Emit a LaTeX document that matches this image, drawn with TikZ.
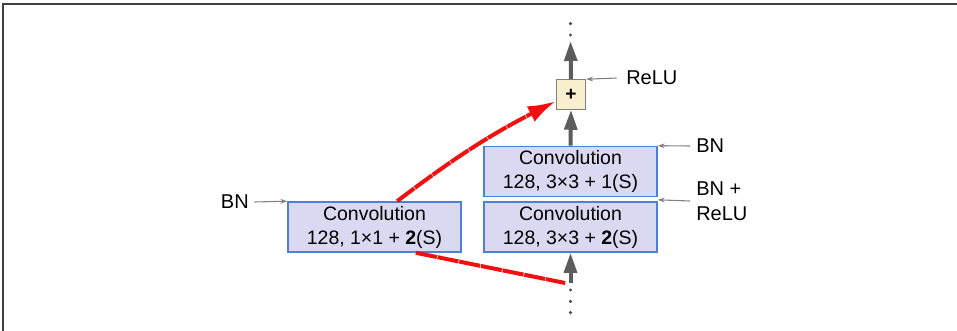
\documentclass[tikz,border=0pt]{standalone}
\usepackage{fontspec}
\setmainfont{Liberation Sans}
\usetikzlibrary{arrows.meta, positioning}
\definecolor{convfill}{HTML}{D9D9F1}
\definecolor{convline}{HTML}{4F7FD6}
\definecolor{addfill}{HTML}{F8EFCF}
\definecolor{flowgray}{HTML}{5C5C5C}
\definecolor{skipred}{HTML}{F01010}

\begin{document}
\begin{tikzpicture}[x=0.75pt, y=-0.75pt,
    conv/.style={draw=convline, fill=convfill, line width=1.2pt,
                 minimum width=129.75pt, minimum height=37.5pt, align=center,
                 inner sep=1pt, font=\fontsize{14.6}{18}\selectfont},
    addbox/.style={draw=gray, fill=addfill, line width=0.9pt,
                   minimum size=22pt, inner sep=0pt, font=\bfseries\Large},
    lbl/.style={font=\fontsize{15}{19}\selectfont, inner sep=0pt, align=left},
    flow/.style={draw=flowgray, line width=3pt, -{Triangle[length=15pt, width=9.5pt]}},
    side/.style={draw=gray, line width=0.8pt, -{Stealth[length=5pt, width=3.5pt]}},
    skip/.style={draw=skipred, line width=3pt, dash pattern=on 16pt off 0.6pt},
    dots/.style={draw=black!70, line width=2.6pt, line cap=round, dash pattern=on 0pt off 8.5pt},
]
    \useasboundingbox (0,0) rectangle (957,331);
    % frame
    \draw[line width=1.5pt, draw=black!75] (3,331) -- (3,4.5) -- (957,4.5);

    \node[conv] (convl) at (374.5,227) {Convolution\\128, 1×1 + \textbf{2}(S)};
    \node[conv] (convt) at (570.5,171.5) {Convolution\\128, 3×3 + 1(S)};
    \node[conv] (convb) at (570.5,227) {Convolution\\128, 3×3 + \textbf{2}(S)};
    \node[addbox] (add) at (571,94.5) {+};

    \coordinate (in) at (570.5,283);
    \coordinate (out) at (570.5,41);

    % main path
    \draw[flow] (in) -- (convb.south);
    \draw[flow] (convt.north) -- (add.south);
    \draw[flow] (add.north) -- (out);
    \draw[dots] (570.5,290) -- (570.5,322);
    \draw[dots] (570.5,35) -- (570.5,18);

    % shortcut
    \draw[skip, -{Latex[length=21pt, width=13pt]}] ([xshift=17pt]convl.north)
        to[bend left=5] ([yshift=-5pt]add.west);
    \draw[skip] ([xshift=31pt]convl.south) -- ([xshift=-4pt]in);

    % labels
    \node[lbl, anchor=east] (bnl) at (249,202) {BN};
    \draw[side] ([xshift=4pt]bnl.east) -- (convl.north west);
    \node[lbl, anchor=west] (relu) at (626,78) {ReLU};
    \draw[side] ([xshift=-7pt]relu.west) -- (add.north east);
    \node[lbl, anchor=west] (bnt) at (696,146) {BN};
    \draw[side] ([xshift=-4.5pt]bnt.west) -- (convt.north east);
    \node[lbl, anchor=west] (bnr) at (696,201) {BN +\\ReLU};
    \draw[side] ([xshift=-4.5pt]bnr.west) -- ([yshift=-1.9pt]convt.south east);
\end{tikzpicture}
\end{document}
